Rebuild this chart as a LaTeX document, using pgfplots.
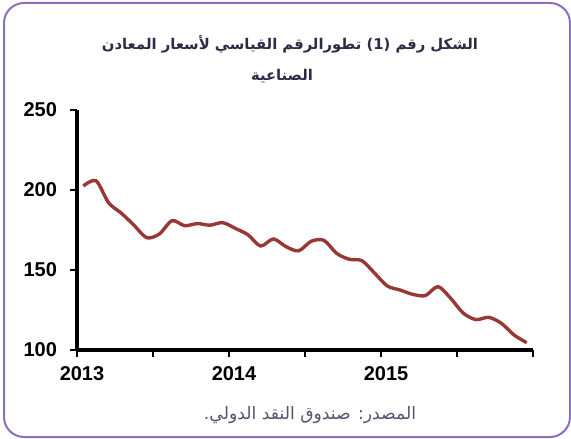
\documentclass[border=0pt]{standalone}
\usepackage{pgfplots}
\pgfplotsset{compat=1.18}
\usepackage{fontspec}
\setmainfont{Liberation Sans}
\newfontfamily\arabicfont[Script=Arabic]{DejaVu Sans}
\TeXXeTstate=1
\definecolor{boxcol}{RGB}{138,112,190}
\definecolor{linecol}{RGB}{152,56,52}
\definecolor{titlecol}{RGB}{50,40,70}
\definecolor{srccol}{RGB}{90,80,110}
\begin{document}
\begin{tikzpicture}
\useasboundingbox (0,0) rectangle (285.5pt,219pt);
\draw[boxcol, line width=1pt, rounded corners=10pt] (2pt,217.5pt) rectangle (285pt,0.5pt);
\node[titlecol, font=\arabicfont\bfseries\fontsize{7.4}{9}\selectfont] at (145pt,197pt) {\beginR الشكل رقم (1) تطورالرقم القياسي لأسعار المعادن\endR};
\node[titlecol, font=\arabicfont\bfseries\fontsize{7.4}{9}\selectfont] at (141pt,181pt) {\beginR الصناعية\endR};
\node[srccol, font=\arabicfont\fontsize{8.6}{10}\selectfont] at (155pt,11.5pt) {\beginR المصدر: صندوق النقد الدولي.\endR};
\begin{axis}[
  at={(38.5pt,44pt)}, anchor=south west,
  scale only axis, width=228pt, height=120pt,
  xmin=2013, xmax=2016, ymin=100, ymax=250,
  axis lines=left, axis line style={line width=2pt, -},
  xtick={2013,2013.5,2014,2014.5,2015,2015.5,2016},
  xticklabels={2013,,2014,,2015,,},
  ytick={100,150,200,250},
  tick align=outside,
  major tick length=3.5pt,
  tick style={line width=1.2pt, black},
  every tick label/.append style={font=\bfseries\fontsize{10}{12}\selectfont},
  /pgf/number format/assume math mode=true,
  x tick label style={/pgf/number format/1000 sep={}, yshift=-1pt, xshift=2.5pt},
  y tick label style={xshift=-3pt},
  clip=false,
]
\addplot[linecol, line width=1.7pt, smooth, tension=0.5] coordinates {
(2013.0417,202.5) (2013.125,205.8) (2013.2083,192) (2013.2917,185.5) (2013.375,178) (2013.4583,170.2)
(2013.5417,172.5) (2013.625,180.8) (2013.7083,177.7) (2013.7917,179) (2013.875,178) (2013.9583,179.6)
(2014.0417,176) (2014.125,172) (2014.2083,165) (2014.2917,169.4) (2014.375,164.6) (2014.4583,162)
(2014.5417,168) (2014.625,168.5) (2014.7083,160.4) (2014.7917,156.7) (2014.875,155.8) (2014.9583,148)
(2015.0417,140) (2015.125,137.5) (2015.2083,134.8) (2015.2917,134) (2015.375,139.6) (2015.4583,132.3)
(2015.5417,123) (2015.625,119) (2015.7083,120.4) (2015.7917,116.7) (2015.875,109.4) (2015.9583,104.6)
};
\end{axis}
\end{tikzpicture}
\end{document}
